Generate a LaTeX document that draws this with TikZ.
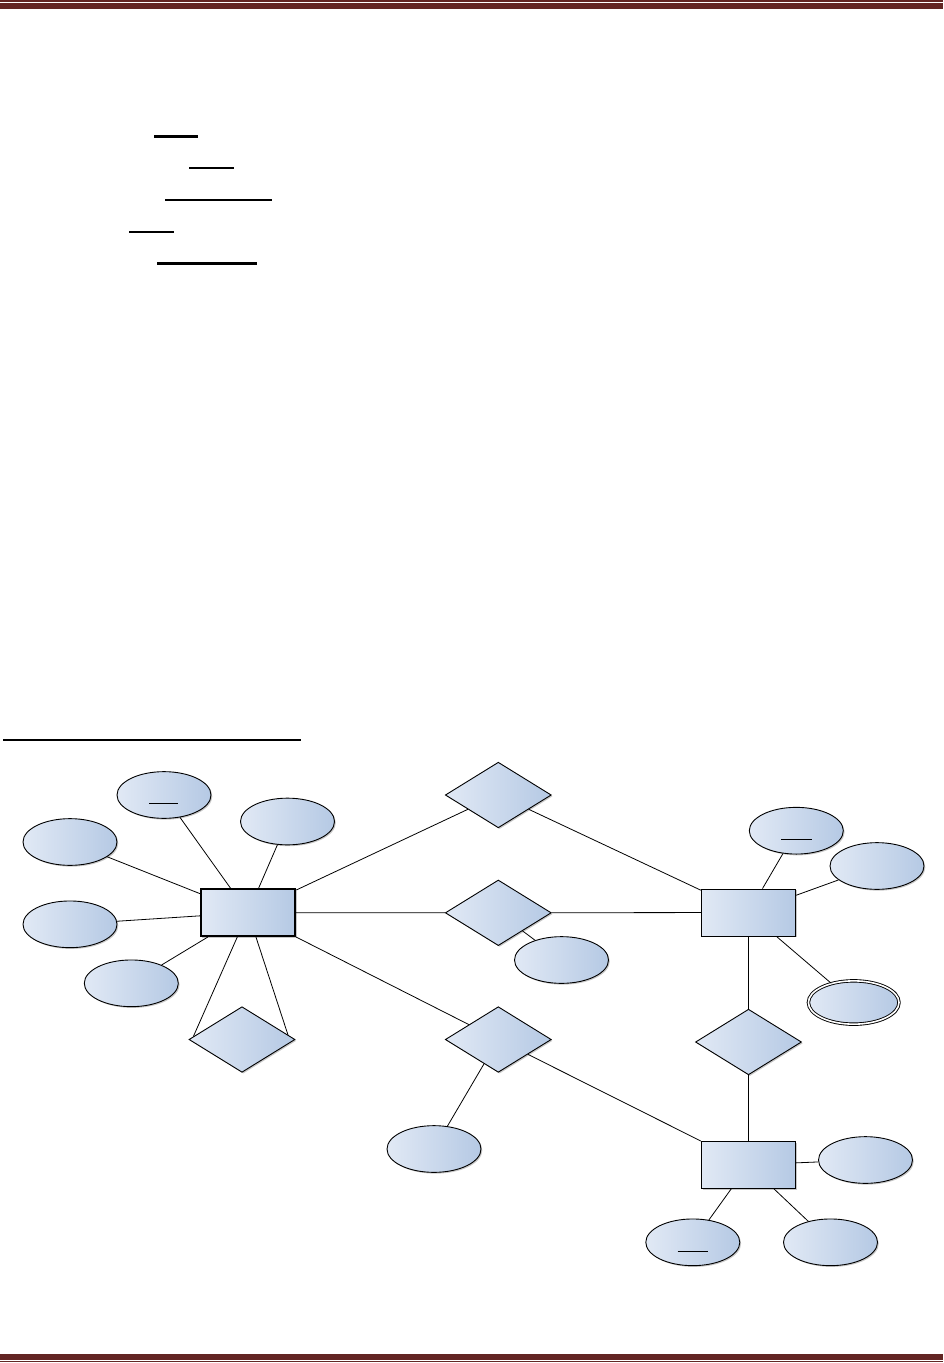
\documentclass[tikz,border=0pt]{standalone}
\usetikzlibrary{shapes.geometric,shadows,calc}
\definecolor{maroon}{HTML}{632523}
\definecolor{shL}{HTML}{E1E9F5}
\definecolor{shR}{HTML}{B5C9E4}
\tikzset{
 er/.style={draw=black, line width=0.9pt, left color=shL, right color=shR,
   drop shadow={shadow xshift=1.3pt, shadow yshift=-1.3pt, opacity=0.22, fill=black}},
 ent/.style={er, rectangle, minimum width=94.5pt, minimum height=47pt, inner sep=0pt},
 rel/.style={er, diamond, minimum width=106pt, minimum height=65.6pt, inner sep=0pt},
 att/.style={er, ellipse, minimum width=94pt, minimum height=46.7pt, inner sep=0pt},
 mattr/.style={att, double, double distance=1.6pt, minimum width=90.6pt, minimum height=43.3pt},
 link/.style={draw=black, line width=0.8pt},
 keyline/.style={line width=0.8pt},
 bar/.style={fill=maroon},
}
\begin{document}
\begin{tikzpicture}[x=1pt,y=-1pt]
\useasboundingbox (0,0) rectangle (943,1363);
% header and footer bars
\fill[bar] (0,0.3) rectangle (943,1.8);
\fill[bar] (0,3) rectangle (943,8.6);
\fill[bar] (0,1354) rectangle (943,1359.7);
\fill[bar] (0,1361.3) rectangle (943,1362.3);
% underlines of the (empty) text lines
\fill (154,135.2) rectangle (198,137.8);
\fill (188.5,166.8) rectangle (234,169.4);
\fill (165,198.7) rectangle (272,201.3);
\fill (129,230.5) rectangle (173.5,233.1);
\fill (157,261.9) rectangle (257,264.5);
\fill (3.3,738.8) rectangle (301,741.4);
% entities
\node[ent, line width=1.6pt] (E1) at (248,912.7) {};
\node[ent] (E2) at (748.5,912.5) {};
\node[ent] (E3) at (748.5,1164.8) {};
% relationships
\node[rel] (R1) at (498.3,795) {};
\node[rel] (R2) at (498.3,912.8) {};
\node[rel] (R3) at (498.3,1039.5) {};
\node[rel] (R4) at (748.5,1042) {};
\node[rel] (R5) at (242,1039.5) {};
% attributes
\node[att] (a1) at (164,795) {};
\node[att] (a2) at (287.5,821.5) {};
\node[att] (a3) at (70,842) {};
\node[att] (a4) at (70,924.3) {};
\node[att] (a5) at (131.3,983.3) {};
\node[att] (a6) at (561.5,960) {};
\node[att] (a7) at (434,1149) {};
\node[att] (b1) at (796.3,830.7) {};
\node[att] (b2) at (877,866) {};
\node[mattr] (b3) at (853.7,1002.5) {};
\node[att] (c1) at (865.5,1160) {};
\node[att] (c2) at (692.8,1242.3) {};
\node[att] (c3) at (830.5,1242.3) {};
% key underlines
\draw[keyline] ($(a1.center)+(-15,8)$) -- ++(29,0);
\draw[keyline] ($(b1.center)+(-15.3,8.6)$) -- ++(30.7,0);
\draw[keyline] ($(c2.center)+(-15.1,8.7)$) -- ++(30,0);
% connectors
\draw[link] (E1) -- (a1);
\draw[link] (E1) -- (a2);
\draw[link] (E1) -- (a3);
\draw[link] (E1) -- (a4);
\draw[link] (E1) -- (a5);
\draw[link] (E1) -- ($(R5.west)!0.09!(R5.north)$);
\draw[link] (E1) -- ($(R5.east)!0.14!(R5.north)$);
\draw[link] (E1) -- (R1);
\draw[link] (R1) -- (E2);
\draw[link] (E1) -- (R2);
\draw[link] (R2) -- (E2);
\draw[link] (R2) -- (a6);
\draw[link] (E1) -- (R3);
\draw[link] (R3) -- (E3);
\draw[link] (R3) -- (a7);
\draw[link] (E2) -- (b1);
\draw[link] (E2) -- (b2);
\draw[link] (E2) -- (b3);
\draw[link] (E2) -- (R4);
\draw[link] (R4) -- (E3);
\draw[link] (E3) -- (c1);
\draw[link] (E3) -- (c2);
\draw[link] (E3) -- (c3);
\end{tikzpicture}
\end{document}
